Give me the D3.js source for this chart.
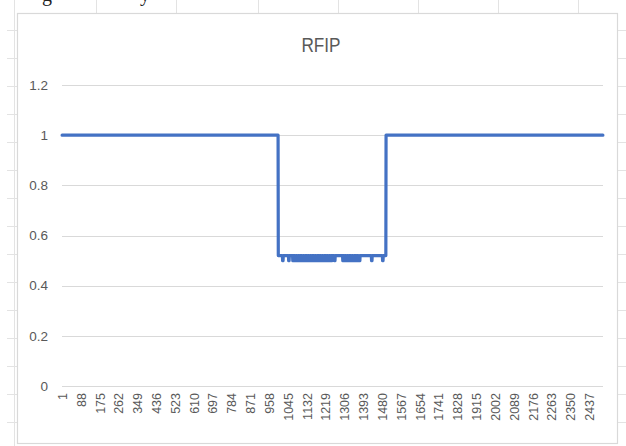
<!DOCTYPE html>
<html>
<head>
<meta charset="utf-8">
<script src="https://cdn.jsdelivr.net/npm/d3@7"></script>
<style>
  html, body { margin: 0; padding: 0; background: #ffffff; }
  svg { display: block; }
</style>
</head>
<body>
<script>
// ---------- DATA ----------
const title = "RFIP";
const categoryCount = 2500;            // number of rows (x categories 1..2500)
const tickLabels = ["1","88","175","262","349","436","523","610","697","784","871","958",
  "1045","1132","1219","1306","1393","1480","1567","1654","1741","1828","1915","2002",
  "2089","2176","2263","2350","2437"];
const yTicks = [0, 0.2, 0.4, 0.6, 0.8, 1, 1.2];
const yTickLabels = ["0", "0.2", "0.4", "0.6", "0.8", "1", "1.2"];
// level runs: [firstIndex, lastIndex, value]
const levelRuns = [
  [1, 999, 1],
  [1000, 1497, 0.52],
  [1498, 2500, 1]
];
// short dips to 0.50 inside the low section: [firstIndex, lastIndex]
const dipValue = 0.5;
const dipRuns = [
  [1020,1022],[1048,1050],
  [1067,1068],[1072,1073],[1077,1079],[1083,1084],[1088,1090],[1094,1095],[1099,1101],
  [1105,1106],[1110,1112],[1116,1117],[1121,1123],[1127,1128],[1132,1134],[1138,1139],
  [1143,1145],[1149,1150],[1154,1156],[1160,1161],[1165,1167],[1171,1172],[1176,1178],
  [1182,1183],[1187,1189],[1193,1194],[1198,1200],[1204,1205],[1209,1211],[1215,1216],
  [1220,1222],[1226,1227],[1231,1233],[1237,1238],[1242,1244],[1247,1248],
  [1260,1262],
  [1298,1299],[1303,1305],[1309,1310],[1314,1316],[1320,1321],[1325,1327],[1331,1332],
  [1336,1338],[1342,1343],[1347,1349],[1353,1354],[1358,1360],[1364,1365],[1369,1371],
  [1375,1377],
  [1431,1433],[1482,1484]
];

// ---------- BUILD SERIES ----------
const categories = d3.range(1, categoryCount + 1).map(String);
const values = new Array(categoryCount).fill(null);
levelRuns.forEach(([a, b, v]) => { for (let i = a; i <= b; i++) values[i - 1] = v; });
dipRuns.forEach(([a, b]) => { for (let i = a; i <= b; i++) values[i - 1] = dipValue; });
const series = categories.map((c, i) => ({ c, v: values[i] }));

// ---------- LAYOUT ----------
const W = 626, H = 446;
const svg = d3.select("body").append("svg").attr("width", W).attr("height", H);
const font = "'Liberation Sans', Arial, sans-serif";

// faint spreadsheet grid around the chart object
const sheet = svg.append("g").attr("stroke", "#e3e3e3").attr("stroke-width", 1);
[96, 176, 258, 338, 418, 498, 578].forEach(x =>
  sheet.append("line").attr("x1", x + 0.5).attr("x2", x + 0.5).attr("y1", 0).attr("y2", 13));
d3.range(30, 446, 28).forEach(y => {
  sheet.append("line").attr("x1", 7).attr("x2", 17).attr("y1", y + 0.5).attr("y2", y + 0.5);
  sheet.append("line").attr("x1", 618).attr("x2", 626).attr("y1", y + 0.5).attr("y2", y + 0.5);
});
sheet.append("line").attr("x1", 14.5).attr("x2", 14.5).attr("y1", 0).attr("y2", 446);
// clipped text of surrounding document (cut off at the top, as in the reference)
svg.append("text").attr("x", 42).attr("y", 1).attr("font-family", "'Liberation Serif', serif")
  .attr("font-size", 20).attr("fill", "#222").text("g");
svg.append("text").attr("x", 140).attr("y", 1).attr("font-family", "'Liberation Serif', serif")
  .attr("font-size", 20).attr("fill", "#222").text("y");

// chart border
svg.append("rect").attr("x", 17.5).attr("y", 13.5).attr("width", 600).attr("height", 430)
  .attr("fill", "#ffffff").attr("stroke", "#d9d9d9").attr("stroke-width", 1.2);

// title
svg.append("text").attr("x", 321).attr("y", 52).attr("text-anchor", "middle")
  .attr("font-family", font).attr("font-size", 19.5).attr("fill", "#595959")
  .attr("transform", "translate(321,0) scale(0.88,1) translate(-321,0)")
  .text(title);

// scales
const x = d3.scaleBand().domain(categories).range([62, 603]);
const xc = c => x(c) + x.bandwidth() / 2;
const y = d3.scaleLinear().domain([0, 1.2]).range([386, 85]);

// gridlines
const grid = svg.append("g");
yTicks.forEach(t => {
  grid.append("line").attr("x1", 62).attr("x2", 603)
    .attr("y1", Math.round(y(t)) + 0.5).attr("y2", Math.round(y(t)) + 0.5)
    .attr("stroke", "#d9d9d9").attr("stroke-width", 1);
});

// y labels
const yAxis = d3.axisLeft(y).tickValues(yTicks).tickSize(0).tickPadding(0)
  .tickFormat((d, i) => yTickLabels[i]);
const gy = svg.append("g").attr("transform", "translate(48,0)").call(yAxis);
gy.select(".domain").remove();
gy.selectAll("text").attr("font-family", font).attr("font-size", 13.5).attr("fill", "#595959");

// x labels (rotated)
const xAxis = d3.axisBottom(x).tickValues(tickLabels).tickSize(0).tickPadding(0);
const gx = svg.append("g").attr("transform", "translate(0,386)").call(xAxis);
gx.select(".domain").remove();
gx.selectAll(".tick text")
  .attr("font-family", font).attr("font-size", 12.5).attr("fill", "#595959")
  .attr("transform", "rotate(-90)")
  .attr("text-anchor", "end").attr("dy", "0.35em").attr("x", -7).attr("y", 0);

// line
const line = d3.line().x(d => xc(d.c)).y(d => y(d.v));
svg.append("path").datum(series).attr("d", line)
  .attr("fill", "none").attr("stroke", "#4472C4").attr("stroke-width", 3.2)
  .attr("stroke-linejoin", "round").attr("stroke-linecap", "round");
</script>
</body>
</html>
